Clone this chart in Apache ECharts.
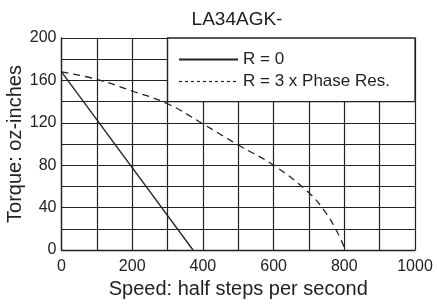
<!DOCTYPE html>
<html>
<head>
<meta charset="utf-8">
<script src="https://cdn.jsdelivr.net/npm/echarts@6/dist/echarts.min.js"></script>
<style>
  html, body { margin: 0; padding: 0; background: #fff; }
  #chart { width: 437px; height: 304px; }
</style>
</head>
<body>
<div id="chart"></div>
<script>
// R = 0 : straight line
const speedR0 = [0, 372]
const torqueR0 = [168, 0]
// R = 3 x Phase Res. : curve
const speedR3 = [0, 100, 200, 300, 400, 500, 600, 700, 750, 780, 803]
const torqueR3 = [168, 161, 150, 138, 119, 99, 80, 54, 34, 17, 0]

const seriesNames = ['R = 0', 'R = 3 x Phase Res.']
// legend box covers this block of the grid
const boxFrom = [300, 140]
const boxTo = [1000, 200]

const font = 'Liberation Sans, Arial, sans-serif'

const chart = echarts.init(document.getElementById('chart'))

const toPairs = (xs, ys) => xs.map((x, i) => [x, ys[i]])

const option = {
  animation: false,
  title: {
    text: 'LA34AGK-',
    left: 237,
    textAlign: 'center',
    top: 10,
    padding: 0,
    textStyle: { fontFamily: font, fontSize: 19, fontWeight: 'normal', color: '#222' }
  },
  grid: { left: 61.5, right: 22, top: 38, bottom: 54, outerBoundsMode: 'none' },
  legend: {
    orient: 'vertical',
    left: 178,
    top: 51,
    padding: 0,
    itemWidth: 59,
    itemHeight: 17,
    itemGap: 5,
    // hide the marker dot, keep only the line sample
    itemStyle: { opacity: 0 },
    textStyle: { fontFamily: font, fontSize: 17, color: '#222', lineHeight: 17 },
    data: [
      { name: seriesNames[0] },
      { name: seriesNames[1], lineStyle: { type: [3, 3], width: 1.2 } }
    ]
  },
  xAxis: {
    type: 'value',
    min: 0,
    max: 1000,
    interval: 100,
    name: 'Speed: half steps per second',
    nameLocation: 'middle',
    nameGap: 25,
    nameTextStyle: { fontFamily: font, fontSize: 20, color: '#222' },
    axisLine: { show: true, lineStyle: { color: '#222', width: 1.3 } },
    axisTick: { show: false },
    axisLabel: {
      margin: 9,
      fontFamily: font,
      fontSize: 16,
      color: '#222',
      formatter: (v) => (v % 200 === 0 ? String(v) : '')
    },
    splitLine: { show: true, lineStyle: { color: '#222', width: 1.2 } }
  },
  yAxis: {
    type: 'value',
    min: 0,
    max: 200,
    interval: 20,
    name: 'Torque: oz-inches',
    nameLocation: 'middle',
    nameGap: 36,
    nameMoveOverlap: false,
    nameTextStyle: { fontFamily: font, fontSize: 20, color: '#222' },
    axisLine: { show: true, lineStyle: { color: '#222', width: 1.3 } },
    axisTick: { show: false },
    axisLabel: {
      margin: 5,
      fontFamily: font,
      fontSize: 16,
      color: '#222',
      formatter: (v) => (v % 40 === 0 ? String(v) : '')
    },
    splitLine: { show: true, lineStyle: { color: '#222', width: 1.2 } }
  },
  series: [
    {
      name: seriesNames[0],
      type: 'line',
      symbol: 'none',
      data: toPairs(speedR0, torqueR0),
      lineStyle: { color: '#222', width: 1.3 },
      itemStyle: { color: '#222' },
      markArea: {
        silent: true,
        itemStyle: { color: '#fff', borderColor: '#222', borderWidth: 1.3 },
        data: [[{ coord: boxFrom }, { coord: boxTo }]]
      }
    },
    {
      name: seriesNames[1],
      type: 'line',
      symbol: 'none',
      smooth: 0.4,
      data: toPairs(speedR3, torqueR3),
      lineStyle: { color: '#222', width: 1.3, type: [7, 5] },
      itemStyle: { color: '#222' }
    }
  ]
}

chart.setOption(option)
window.addEventListener('resize', function () {
  chart.resize()
})
</script>
</body>
</html>
